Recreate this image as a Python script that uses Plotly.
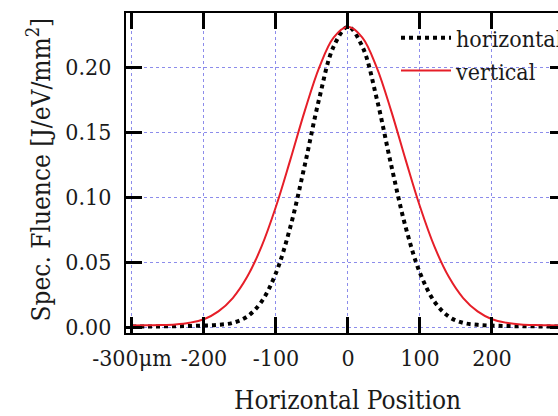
import plotly.graph_objects as go

positions = [-300, -280, -260, -240, -220, -200, -180, -160, -140, -120, -100, -80, -60, -40, -20, 0,
             20, 40, 60, 80, 100, 120, 140, 160, 180, 200, 220, 240, 260, 280, 300]
horizontal = [0.0004, 0.0004, 0.0005, 0.0006, 0.0008, 0.0011, 0.0017, 0.0032, 0.0080, 0.0196, 0.0416,
              0.0771, 0.1246, 0.1756, 0.2157, 0.2310, 0.2157, 0.1756, 0.1246, 0.0771, 0.0416, 0.0196,
              0.0080, 0.0032, 0.0017, 0.0011, 0.0008, 0.0006, 0.0005, 0.0004, 0.0004]
vertical = [0.0012, 0.0013, 0.0015, 0.0020, 0.0033, 0.0060, 0.0120, 0.0223, 0.0386, 0.0620, 0.0927,
            0.1288, 0.1663, 0.1996, 0.2227, 0.2310, 0.2227, 0.1996, 0.1663, 0.1288, 0.0927, 0.0620,
            0.0386, 0.0223, 0.0120, 0.0060, 0.0033, 0.0020, 0.0015, 0.0013, 0.0012]
x_tickvals = [-300, -200, -100, 0, 100, 200]
x_ticktext = ["-300\u03bcm", "-200", "-100", "0", "100", "200"]
y_tickvals = [0.00, 0.05, 0.10, 0.15, 0.20]
y_ticktext = ["0.00", "0.05", "0.10", "0.15", "0.20"]

FONT = "DejaVu Serif Condensed"
TXT = "#1a1a1a"
GRID = "rgb(140,140,235)"
XR = [-308.3, 291.7]
YR = [-0.0046, 0.2416]

fig = go.Figure()
fig.add_trace(go.Scatter(x=positions, y=horizontal, mode="lines", name="horizontal",
                         line=dict(color="black", width=4, dash="4px,4px", shape="spline"),
                         hoverinfo="skip"))
fig.add_trace(go.Scatter(x=positions, y=vertical, mode="lines", name="vertical", yaxis="y2",
                         line=dict(color="rgb(230,30,40)", width=2, shape="spline"),
                         hoverinfo="skip"))

fig.update_layout(
    width=558, height=416,
    margin=dict(l=126, r=0, t=13, b=83, autoexpand=False),
    paper_bgcolor="white", plot_bgcolor="white",
    font=dict(family=FONT, size=23, color=TXT),
    showlegend=True,
    legend=dict(x=0.625, y=0.99, xanchor="left", yanchor="top", bgcolor="rgba(0,0,0,0)",
                font=dict(family=FONT, size=23, color=TXT), tracegroupgap=0,
                itemwidth=50),
    xaxis=dict(range=XR, tickvals=x_tickvals, ticktext=x_ticktext, ticks="inside", tickangle=0,
               ticklen=16, tickwidth=2.5, tickcolor="black", showline=True, linecolor="black",
               linewidth=2, mirror="ticks", showgrid=True, gridcolor=GRID, griddash="3px,3px",
               gridwidth=1, zeroline=False, ticklabelstandoff=3,
               tickfont=dict(family=FONT, size=23, color=TXT)),
    yaxis=dict(range=YR, tickvals=y_tickvals, ticktext=y_ticktext, ticks="inside",
               ticklen=16, tickwidth=2.5, tickcolor="black", showline=True, linecolor="black",
               linewidth=2, showgrid=True, gridcolor=GRID, griddash="3px,3px", gridwidth=1,
               zeroline=False, ticklabelstandoff=8,
               tickfont=dict(family=FONT, size=23, color=TXT)),
    yaxis2=dict(range=YR, tickvals=y_tickvals, overlaying="y", side="right", ticks="inside",
                ticklen=8, tickwidth=2.5, tickcolor="black", showline=False, showgrid=False,
                zeroline=False, showticklabels=False),
    shapes=[dict(type="rect", xref="paper", yref="paper", x0=0.618, x1=1.0, y0=0.756, y1=1.0,
                 fillcolor="white", line=dict(width=0), layer="between")],
    annotations=[
        dict(text="Horizontal Position", xref="x", yref="paper", x=0, y=-0.209,
             xanchor="center", yanchor="middle", showarrow=False,
             font=dict(family=FONT, size=26, color=TXT)),
        dict(text="Spec. Fluence [J/eV/mm<sup>2</sup>]", xref="paper", yref="paper",
             x=-0.202, y=0.51, xanchor="center", yanchor="middle", textangle=-90,
             showarrow=False, font=dict(family=FONT, size=26, color=TXT)),
    ],
)

fig.write_html("out.html")
